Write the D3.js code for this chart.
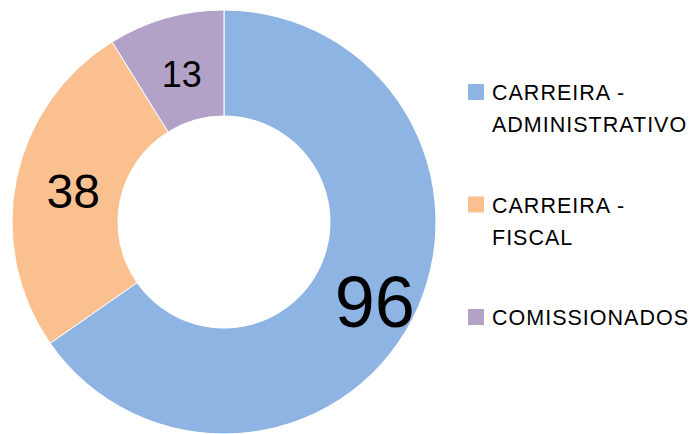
<!DOCTYPE html>
<html><head><meta charset="utf-8">
<script src="https://cdn.jsdelivr.net/npm/d3@7"></script>
<style>html,body{margin:0;padding:0;background:#fff;} svg{display:block;}</style>
</head><body>
<svg id="c" width="695" height="434"></svg>
<script>
const categories = ["CARREIRA - ADMINISTRATIVO", "CARREIRA - FISCAL", "COMISSIONADOS"];
const values = [96, 38, 13];
const legendLines = [["CARREIRA -", "ADMINISTRATIVO"], ["CARREIRA -", "FISCAL"], ["COMISSIONADOS"]];
const colors = ["#8EB4E3", "#FAC090", "#B3A2C7"];
const labelSizes = [72, 48, 36];
const labelRadii = [170, 154, 154];

const svg = d3.select("#c");
const cx = 224, cy = 222, R = 212, r = 106;
const font = "'Liberation Sans', Arial, sans-serif";

const data = categories.map((c, i) => ({cat: c, value: values[i], i}));
const pie = d3.pie().value(d => d.value).sort(null);
const arcs = pie(data);
const arc = d3.arc().innerRadius(r).outerRadius(R);
const color = d3.scaleOrdinal().domain(categories).range(colors);

const g = svg.append("g").attr("transform", `translate(${cx},${cy})`);
g.selectAll("path").data(arcs).enter().append("path")
  .attr("d", arc)
  .attr("fill", d => color(d.data.cat))
  .attr("stroke", "#fff").attr("stroke-width", 1);

g.selectAll("text.lbl").data(arcs).enter().append("text")
  .attr("class", "lbl")
  .attr("transform", d => {
    const lr = labelRadii[d.data.i];
    const c = d3.arc().innerRadius(lr).outerRadius(lr).centroid(d);
    return `translate(${c[0]},${c[1]})`;
  })
  .attr("text-anchor", "middle")
  .attr("dy", "0.36em")
  .style("font-family", font)
  .style("font-size", d => labelSizes[d.data.i] + "px")
  .attr("fill", "#000")
  .text(d => d.data.value);

const legendY = d3.scalePoint().domain(categories).range([100, 325]);
const lg = svg.append("g");
categories.forEach((c, i) => {
  const y = legendY(c);
  lg.append("rect").attr("x", 468).attr("y", y - 16).attr("width", 16).attr("height", 16)
    .attr("fill", color(c));
  const t = lg.append("text").attr("x", 492).attr("y", y)
    .style("font-family", font).style("font-size", "21.5px")
    .style("letter-spacing", "1px").attr("fill", "#000");
  legendLines[i].forEach((ln, j) => {
    t.append("tspan").attr("x", 492).attr("y", y + j * 32).text(ln);
  });
});
</script>
</body></html>
